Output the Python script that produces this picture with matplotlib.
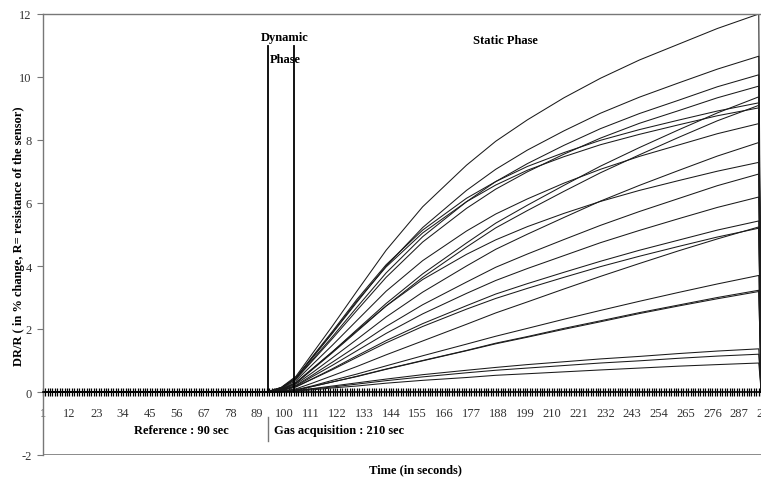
import matplotlib
matplotlib.use("Agg")
import matplotlib.pyplot as plt
from matplotlib.ticker import FixedLocator, NullFormatter

# ---------------- data ----------------
sample_cats = [1, 93, 99, 105, 112, 120, 130, 142, 157, 175, 187, 200, 215, 230, 246, 262, 278, 295, 296]

s01 = [0, 0, 0.15, 0.50, 1.25, 2.10, 3.20, 4.50, 5.88, 7.20, 7.96, 8.64, 9.34, 9.96, 10.54, 11.04, 11.54, 12.00, 0]
s02 = [0, 0, 0.13, 0.45, 1.11, 1.87, 2.85, 4.00, 5.22, 6.40, 7.07, 7.68, 8.29, 8.85, 9.36, 9.81, 10.25, 10.66, 0]
s03 = [0, 0, 0.13, 0.42, 1.05, 1.76, 2.69, 3.78, 4.93, 6.04, 6.68, 7.25, 7.83, 8.36, 8.84, 9.26, 9.69, 10.07, 0]
s04 = [0, 0, 0.12, 0.41, 1.01, 1.70, 2.59, 3.64, 4.76, 5.83, 6.44, 6.99, 7.55, 8.06, 8.53, 8.93, 9.34, 9.71, 0]
s05 = [0, 0, 0.08, 0.29, 0.75, 1.28, 1.98, 2.81, 3.75, 4.73, 5.36, 5.93, 6.56, 7.17, 7.76, 8.32, 8.86, 9.37, 0]
s06 = [0, 0, 0.14, 0.46, 1.15, 1.93, 2.94, 4.04, 5.14, 6.15, 6.68, 7.16, 7.60, 7.99, 8.33, 8.63, 8.92, 9.18, 0]
s07 = [0, 0, 0.08, 0.28, 0.73, 1.25, 1.92, 2.73, 3.64, 4.60, 5.21, 5.76, 6.37, 6.96, 7.53, 8.08, 8.61, 9.10, 0]
s08 = [0, 0, 0.14, 0.45, 1.13, 1.89, 2.89, 3.97, 5.05, 6.04, 6.57, 7.04, 7.47, 7.85, 8.18, 8.48, 8.77, 9.02, 0]
s09 = [0, 0, 0.11, 0.36, 0.89, 1.49, 2.27, 3.20, 4.17, 5.11, 5.65, 6.13, 6.63, 7.07, 7.48, 7.84, 8.20, 8.52, 0]
s10 = [0, 0, 0.07, 0.25, 0.63, 1.09, 1.67, 2.38, 3.17, 4.00, 4.53, 5.01, 5.54, 6.06, 6.56, 7.03, 7.49, 7.92, 0]
s11 = [0, 0, 0.09, 0.31, 0.76, 1.28, 1.95, 2.73, 3.57, 4.37, 4.83, 5.25, 5.67, 6.05, 6.40, 6.71, 7.01, 7.29, 0]
s12 = [0, 0, 0.06, 0.21, 0.55, 0.95, 1.46, 2.08, 2.77, 3.49, 3.96, 4.38, 4.84, 5.29, 5.73, 6.14, 6.55, 6.92, 0]
s13 = [0, 0, 0.06, 0.19, 0.50, 0.85, 1.31, 1.86, 2.48, 3.13, 3.54, 3.92, 4.33, 4.74, 5.13, 5.50, 5.86, 6.19, 0]
s14 = [0, 0, 0.05, 0.17, 0.43, 0.74, 1.15, 1.63, 2.17, 2.74, 3.11, 3.44, 3.80, 4.15, 4.50, 4.82, 5.14, 5.43, 0]
s15 = [0, 0, 0.03, 0.10, 0.29, 0.52, 0.81, 1.18, 1.62, 2.15, 2.51, 2.86, 3.27, 3.67, 4.08, 4.48, 4.86, 5.24, 0]
s16 = [0, 0, 0.05, 0.16, 0.42, 0.71, 1.10, 1.56, 2.08, 2.63, 2.97, 3.29, 3.64, 3.98, 4.31, 4.62, 4.92, 5.20, 0]
s17 = [0, 0, 0.02, 0.07, 0.20, 0.37, 0.57, 0.83, 1.15, 1.52, 1.77, 2.02, 2.31, 2.59, 2.88, 3.16, 3.43, 3.70, 0]
s18 = [0, 0, 0.02, 0.06, 0.18, 0.32, 0.50, 0.73, 1.00, 1.32, 1.55, 1.76, 2.02, 2.26, 2.52, 2.76, 3.00, 3.23, 0]
s19 = [0, 0, 0.02, 0.06, 0.18, 0.32, 0.49, 0.72, 0.99, 1.31, 1.53, 1.74, 1.99, 2.23, 2.49, 2.73, 2.96, 3.19, 0]
s20 = [0, 0, 0.01, 0.04, 0.11, 0.19, 0.29, 0.41, 0.55, 0.69, 0.78, 0.87, 0.96, 1.05, 1.13, 1.22, 1.30, 1.37, 0]
s21 = [0, 0, 0.01, 0.04, 0.10, 0.16, 0.25, 0.36, 0.48, 0.61, 0.69, 0.76, 0.84, 0.92, 0.99, 1.07, 1.14, 1.20, 0]
s22 = [0, 0, 0.01, 0.03, 0.07, 0.13, 0.19, 0.28, 0.37, 0.46, 0.53, 0.58, 0.64, 0.70, 0.76, 0.82, 0.87, 0.92, 0]

series = [s01, s02, s03, s04, s05, s06, s07, s08, s09, s10, s11,
          s12, s13, s14, s15, s16, s17, s18, s19, s20, s21, s22]

x_tick_values = [1, 12, 23, 34, 45, 56, 67, 78, 89, 100, 111, 122, 133, 144,
                 155, 166, 177, 188, 199, 210, 221, 232, 243, 254, 265, 276,
                 287, 298]
x_tick_labels = [str(v) for v in x_tick_values]
y_ticks = [-2, 0, 2, 4, 6, 8, 10, 12]
phase_lines = [93.4, 104.3]
phase_line_top = 11
n_categories = 307

# ---------------- figure ----------------
W, H = 761, 481
fig = plt.figure(figsize=(W / 100, H / 100), dpi=100)
serif = "Liberation Serif"

left_px, right_px, top_px, bottom_px = 42.7, 788, 15, 456
ax = fig.add_axes([left_px / W, 1 - bottom_px / H,
                   (right_px - left_px) / W, (bottom_px - top_px) / H])

for s in series:
    ax.plot(sample_cats, s, color="#1a1a1a", lw=0.75)

ax.set_xlim(1, n_categories)
ax.set_ylim(-2, 12)

# spines
ax.spines["bottom"].set_position(("data", 0))
ax.spines["bottom"].set_color("#000000")
ax.spines["bottom"].set_linewidth(1.2)
for side in ["left", "top", "right"]:
    ax.spines[side].set_color("#777777")
    ax.spines[side].set_linewidth(1.0)
ax.axhline(-2, color="#777777", lw=1.2, zorder=0.5)

# x ticks
ax.xaxis.set_major_locator(FixedLocator(x_tick_values))
ax.set_xticklabels(x_tick_labels)
ax.xaxis.set_minor_locator(FixedLocator(list(range(1, n_categories + 1))))
ax.xaxis.set_minor_formatter(NullFormatter())
ax.tick_params(axis="x", which="both", direction="inout", length=6,
               width=0.9, color="#000000", pad=8, labelsize=9,
               labelcolor="#333333")
for lab in ax.get_xticklabels():
    lab.set_fontfamily(serif)

# y ticks
ax.set_yticks(y_ticks)
ax.set_yticklabels([str(v) for v in y_ticks])
ax.tick_params(axis="y", direction="out", length=4, width=0.8,
               color="#777777", pad=4, labelsize=9, labelcolor="#333333")
for lab in ax.get_yticklabels():
    lab.set_fontfamily(serif)

# phase lines
for xv in phase_lines:
    ax.plot([xv, xv], [0, phase_line_top], color="black", lw=1.3)
ax.plot([93.4, 93.4], [-0.8, -1.57], color="#777777", lw=1.0, clip_on=False)


def fpx(x, y):
    return x / W, 1 - y / H


bold = dict(fontfamily=serif, fontweight="bold", fontsize=9, color="black")
fig.text(*fpx(285, 38), "Dynamic", ha="center", va="center", **bold)
fig.text(*fpx(285, 60), "Phase", ha="center", va="center", **bold)
fig.text(*fpx(505, 41), "Static Phase", ha="center", va="center", **bold)
fig.text(*fpx(181, 431), "Reference : 90 sec", ha="center", va="center", **bold)
fig.text(*fpx(274, 431), "Gas acquisition : 210 sec", ha="left", va="center", **bold)
fig.text(*fpx(415, 470), "Time (in seconds)", ha="center", va="center", **bold)
fig.text(*fpx(19, 236), "DR/R ( in % change, R= resistance of the sensor)",
         ha="center", va="center", rotation=90, **bold)

fig.savefig("out.png", dpi=100)
